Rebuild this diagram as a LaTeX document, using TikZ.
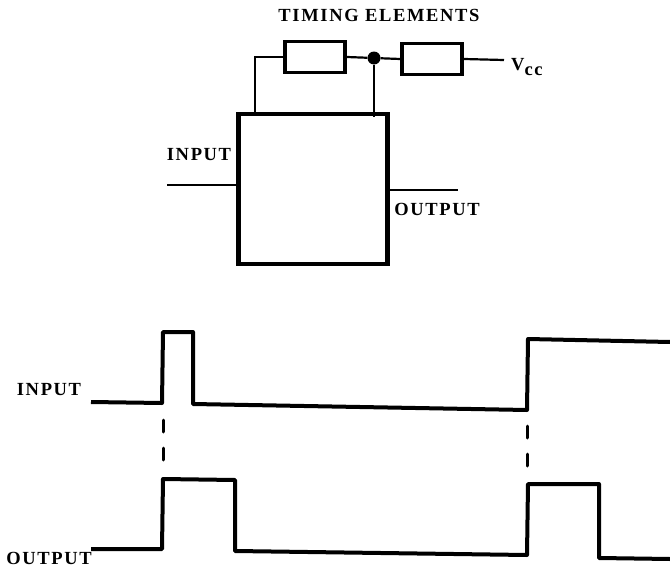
\documentclass[tikz,border=0pt]{standalone}
\usepackage{fontspec}
\setmainfont{Liberation Serif}
\newfontfamily\labelfont[LetterSpace=9]{Liberation Serif}
\begin{document}
\begin{tikzpicture}[x=1pt, y=-1pt,
		label/.style={font=\labelfont\bfseries\fontsize{18.5}{20}\selectfont, inner sep=0pt},
		wire/.style={line width=2.2pt},
		block/.style={draw, line width=4.4pt, minimum width=149pt, minimum height=150pt, inner sep=0pt},
		resistor/.style={draw, line width=3.6pt, minimum width=60pt, minimum height=31pt, inner sep=0pt},
		junction/.style={circle, fill, minimum size=13pt, inner sep=0pt},
		pulse/.style={line width=4pt, line join=round},
		guide/.style={line width=3pt, line cap=round, dash pattern=on 12pt off 16pt}]

		\useasboundingbox (0, 0) rectangle (670, 573);

		\node[block] (chip) at (313, 189) {};
		\node[resistor] (r1) at (315, 57) {};
		\node[resistor] (r2) at (432, 59) {};
		\node[junction] (tap) at (374, 58) {};

		\coordinate (feed) at (255, 116);
		\coordinate (pin) at (374, 117);
		\coordinate (vcc) at (504, 60);
		\coordinate (in) at (167, 185);
		\coordinate (out) at (458, 190);

		\draw[wire] (r1.west) -| (feed);
		\draw[wire] (r1.east) -- (tap);
		\draw[wire] (tap) -- (r2.west);
		\draw[wire] (r2.east) -- (vcc);
		\draw[wire] (tap) -- (pin);
		\draw[wire] (in) -- (in -| chip.west);
		\draw[wire] (out -| chip.east) -- (out);

		\node[label] (title) at (379, 15) {TIMING ELEMENTS};
		\node[label, anchor=west] (vlabel) at (511, 67) {V\raisebox{-5pt}{cc}};
		\node[label] (inlabel) at (199, 155) {INPUT};
		\node[label] (outlabel) at (437, 209) {OUTPUT};
		\node[label] (inwave) at (49, 390) {INPUT};
		\node[label] (outwave) at (49, 558) {OUTPUT};

		\draw[pulse] (91, 402) -- (162, 403) -- (163, 332) -- (193, 332) -- (193, 404) -- (527, 410) -- (528, 339) -- (670, 342);
		\draw[pulse] (91, 549) -- (162, 549) -- (163, 479) -- (235, 480) -- (235, 551) -- (527, 555) -- (528, 484) -- (599, 484) -- (599, 558) -- (670, 559);

		\draw[guide] (163, 420) -- (163, 463);
		\draw[guide] (527, 426) -- (527, 468);
	\end{tikzpicture}
\end{document}
